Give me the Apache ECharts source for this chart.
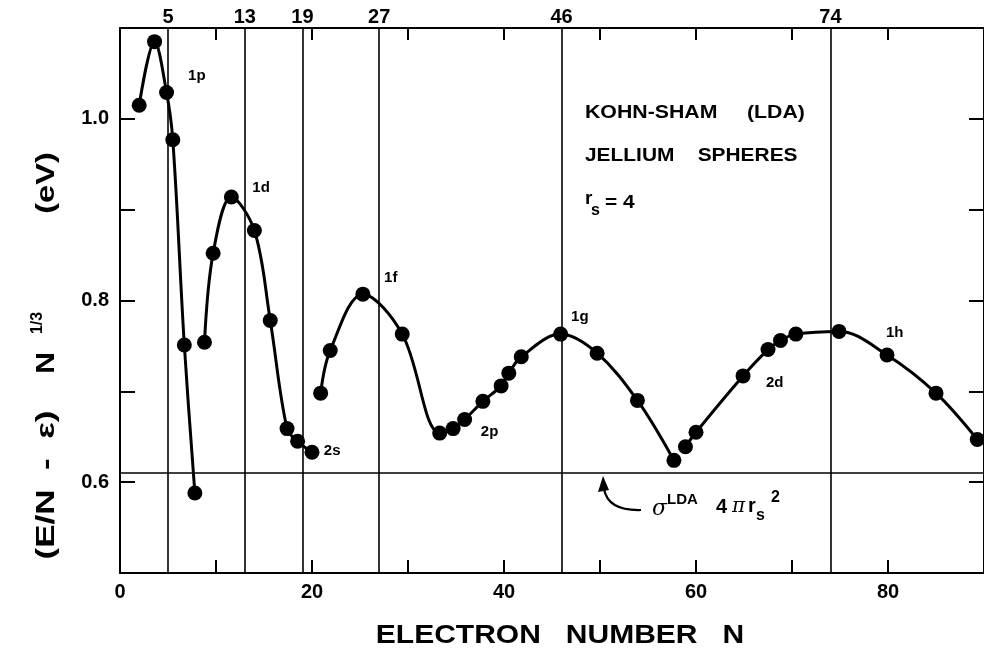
<!DOCTYPE html>
<html>
<head>
<meta charset="utf-8">
<script src="https://cdn.jsdelivr.net/npm/echarts@6/dist/echarts.min.js"></script>
<style>
html, body { margin: 0; padding: 0; background: #fff; }
#chart { width: 984px; height: 649px; }
</style>
</head>
<body>
<div id="chart"></div>
<script>
// shell closings marked by vertical lines
const magicNumbers = [5, 13, 19, 27, 46, 74];
const sigmaLevel = 0.614;

// four curve pieces
const seg1N = [2.0, 3.6, 4.85, 5.5, 6.7, 7.8];
const seg1E = [1.015, 1.085, 1.029, 0.977, 0.751, 0.588];
const seg2N = [8.8, 9.7, 11.6, 14.0, 15.65, 17.4, 18.5, 20.0];
const seg2E = [0.754, 0.852, 0.914, 0.877, 0.778, 0.659, 0.645, 0.633];
const seg3N = [20.9, 21.9, 25.3, 29.4, 33.3, 34.7, 35.9, 37.8, 39.7, 40.5, 41.8, 45.9, 49.7, 53.9, 57.7];
const seg3E = [0.698, 0.745, 0.807, 0.763, 0.654, 0.659, 0.669, 0.689, 0.706, 0.720, 0.738, 0.763, 0.742, 0.690, 0.624];
const seg4N = [58.9, 60.0, 64.9, 67.5, 68.8, 70.4, 74.9, 79.9, 85.0, 89.3];
const seg4E = [0.639, 0.655, 0.717, 0.746, 0.756, 0.763, 0.766, 0.740, 0.698, 0.647];

// shell labels
const shellNames = ["1p", "1d", "1f", "2s", "2p", "1g", "2d", "1h"];
const shellN = [8.0, 14.7, 28.2, 22.1, 38.5, 47.9, 68.2, 80.7];
const shellE = [1.047, 0.924, 0.825, 0.634, 0.655, 0.782, 0.709, 0.764];

const yLabelValues = [0.6, 0.8, 1.0];
const xLabelValues = [0, 20, 40, 60, 80];
const xTickValues = [10, 20, 30, 40, 50, 60, 70, 80];

const FONT = '"Liberation Sans", Arial, sans-serif';

function zip(a, b) {
	return a.map((v, i) => [v, b[i]]);
}

function curve(n, e) {
	return {
		type: "line",
		data: zip(n, e),
		smooth: 0.35,
		symbol: "circle",
		symbolSize: 15,
		lineStyle: { color: "#000", width: 3 },
		itemStyle: { color: "#000" },
		silent: true
	};
}

function txt(x, y, text, size, extra, props) {
	return Object.assign({
		type: "text",
		x: x,
		y: y,
		style: Object.assign({
			text: text,
			fontSize: size,
			fontWeight: "bold",
			fontFamily: FONT,
			fill: "#000",
			align: "left",
			verticalAlign: "middle"
		}, extra || {})
	}, props || {});
}

const chart = echarts.init(document.getElementById("chart"));

const seriesList = [
	curve(seg1N, seg1E),
	curve(seg2N, seg2E),
	curve(seg3N, seg3E),
	curve(seg4N, seg4E)
];

seriesList[0].markLine = {
	silent: true,
	symbol: ["none", "none"],
	label: { show: false },
	lineStyle: { color: "#000", width: 1.6, type: "solid" },
	data: magicNumbers.map(n => ({ xAxis: n })).concat([{ yAxis: sigmaLevel }])
};

seriesList.push({
	type: "scatter",
	symbolSize: 0,
	silent: true,
	itemStyle: { opacity: 1, color: "#000" },
	data: shellNames.map((s, i) => ({ name: s, value: [shellN[i], shellE[i]] })),
	label: {
		show: true,
		position: "inside",
		formatter: p => p.name,
		color: "#000",
		opacity: 1,
		fontSize: 15,
		fontWeight: "bold",
		fontFamily: FONT
	}
});

const axisLine = { show: true, onZero: false, lineStyle: { color: "#000", width: 2 } };
const tickStyle = { color: "#000", width: 2 };

const option = {
	animation: false,
	backgroundColor: "#fff",
	grid: { left: 120, right: -4, top: 28, bottom: 76 },
	xAxis: [
		{
			type: "value",
			min: 0,
			max: 90,
			interval: 10,
			position: "bottom",
			axisLine: axisLine,
			axisTick: { show: true, inside: true, length: 13, lineStyle: tickStyle },
			axisLabel: {
				customValues: xLabelValues,
				color: "#000",
				fontSize: 20,
				fontWeight: "bold",
				fontFamily: FONT,
				margin: 9
			},
			splitLine: { show: false }
		},
		{
			type: "value",
			min: 0,
			max: 90,
			interval: 10,
			position: "top",
			axisLine: axisLine,
			axisTick: { show: true, inside: true, length: 12, lineStyle: tickStyle, customValues: xTickValues },
			axisLabel: {
				customValues: magicNumbers,
				color: "#000",
				fontSize: 20,
				fontWeight: "bold",
				fontFamily: FONT,
				margin: 1
			},
			splitLine: { show: false }
		}
	],
	yAxis: [
		{
			type: "value",
			min: 0.5,
			max: 1.1,
			interval: 0.1,
			position: "left",
			axisLine: axisLine,
			axisTick: { show: true, inside: true, length: 15, lineStyle: tickStyle },
			axisLabel: {
				customValues: yLabelValues,
				formatter: v => v.toFixed(1),
				color: "#000",
				fontSize: 20,
				fontWeight: "bold",
				fontFamily: FONT,
				margin: 11
			},
			splitLine: { show: false }
		},
		{
			type: "value",
			min: 0.5,
			max: 1.1,
			interval: 0.1,
			position: "right",
			axisLine: axisLine,
			axisTick: { show: true, inside: true, length: 15, lineStyle: tickStyle },
			axisLabel: { show: false },
			splitLine: { show: false }
		}
	],
	series: seriesList,
	graphic: [
		// x axis title
		txt(560, 636, "ELECTRON   NUMBER   N", 25, { align: "center" }, { scaleX: 1.2 }),
		// y axis title (rotated, reads bottom to top)
		txt(47, 183, "(eV)", 25, { align: "center" }, { rotation: Math.PI / 2, scaleX: 1.3 }),
		txt(47, 485, "(E/N  -  ε)", 25, { align: "center" }, { rotation: Math.PI / 2, scaleX: 1.4 }),
		txt(47, 363, "N", 25, { align: "center" }, { rotation: Math.PI / 2, scaleX: 1.2 }),
		txt(38, 323, "1/3", 16, { align: "center" }, { rotation: Math.PI / 2 }),
		// legend block
		txt(585, 113, "KOHN-SHAM     (LDA)", 19, null, { scaleX: 1.12 }),
		txt(585, 156, "JELLIUM    SPHERES", 19, null, { scaleX: 1.1 }),
		txt(585, 199, "r", 19),
		txt(591, 211, "s", 16),
		txt(605, 203, "= 4", 19, null, { scaleX: 1.1 }),
		// sigma annotation
		{
			type: "bezierCurve",
			shape: { x1: 641, y1: 510, x2: 604, y2: 489, cpx1: 608, cpy1: 511 },
			style: { stroke: "#000", lineWidth: 2.2, fill: null }
		},
		{
			type: "polygon",
			shape: { points: [[603, 476], [598, 492], [609, 490]] },
			style: { fill: "#000" }
		},
		txt(652, 509, "σ", 22, { fontWeight: "normal", fontStyle: "italic", fontFamily: "DejaVu Serif, serif" }),
		txt(667, 500, "LDA", 15),
		txt(716, 507, "4", 20),
		txt(732, 507, "π", 20, { fontWeight: "normal", fontStyle: "italic", fontFamily: "DejaVu Serif, serif" }),
		txt(748, 506, "r", 20),
		txt(756, 516, "s", 16),
		txt(771, 498, "2", 16)
	]
};

chart.setOption(option);
</script>
</body>
</html>
